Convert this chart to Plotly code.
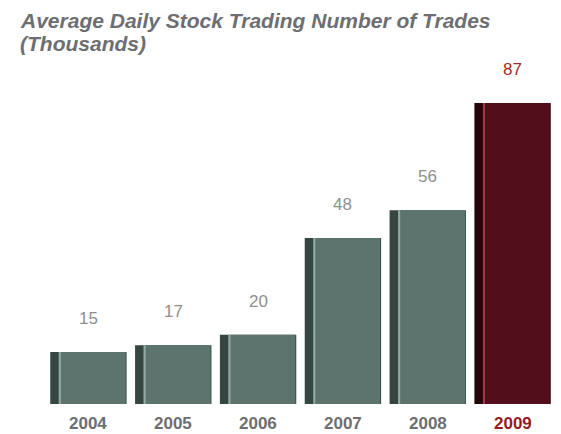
import plotly.graph_objects as go

years = ["2004", "2005", "2006", "2007", "2008", "2009"]
trades = [15, 17, 20, 48, 56, 87]
title_lines = ["Average Daily Stock Trading Number of Trades", "(Thousands)"]

body_colors = ["#5d746e"] * 5 + ["#520f1b"]
edge_colors = ["#34463f"] * 5 + ["#25050a"]
light_colors = ["#9cb8b0"] * 5 + ["#b04550"]
value_colors = ["#8f8f8f"] * 5 + ["#9e2b2b"]
year_colors = ["#6d6e71"] * 5 + ["#941c1c"]

fig = go.Figure()
# dark shell of each bar
fig.add_trace(go.Bar(x=years, y=trades, width=0.9, marker=dict(color=edge_colors, line=dict(width=0)),
                     hoverinfo="skip"))
# main face
fig.add_trace(go.Bar(x=years, y=trades, width=0.79, offset=-0.35, marker=dict(color=body_colors, line=dict(width=0)),
                     hoverinfo="skip"))
# thin highlight at the face's left edge
fig.add_trace(go.Bar(x=years, y=trades, width=0.025, offset=-0.35, marker=dict(color=light_colors, line=dict(width=0)),
                     opacity=0.8, hoverinfo="skip"))

for i, (v, c) in enumerate(zip(trades, value_colors)):
    fig.add_annotation(x=i, y=v, text=str(v), showarrow=False, yanchor="bottom", yshift=22,
                       font=dict(family="Liberation Sans, Arial", size=17, color=c))

for i, (yr, c) in enumerate(zip(years, year_colors)):
    fig.add_annotation(x=i, y=0, text="<b>%s</b>" % yr, showarrow=False, yanchor="top", yshift=-8,
                       font=dict(family="Liberation Sans, Arial", size=17, color=c))

for i, line in enumerate(title_lines):
    fig.add_annotation(xref="paper", yref="paper", x=-0.054, y=1.0, xanchor="left", yanchor="bottom",
                       yshift=25 - 23 * i, text="<b><i>%s</i></b>" % line, showarrow=False, align="left",
                       borderpad=0,
                       font=dict(family="Liberation Sans, Arial", size=21, color="#6d6e71"))

fig.update_layout(
    width=561, height=434,
    margin=dict(l=38, r=14, t=50, b=38),
    barmode="overlay",
    showlegend=False,
    plot_bgcolor="white", paper_bgcolor="white",
    xaxis=dict(type="category", range=[-0.5, 5.5], showticklabels=False, showgrid=False,
               zeroline=False, showline=False),
    yaxis=dict(range=[0, 100], visible=False),
)
fig.write_html("out.html")
